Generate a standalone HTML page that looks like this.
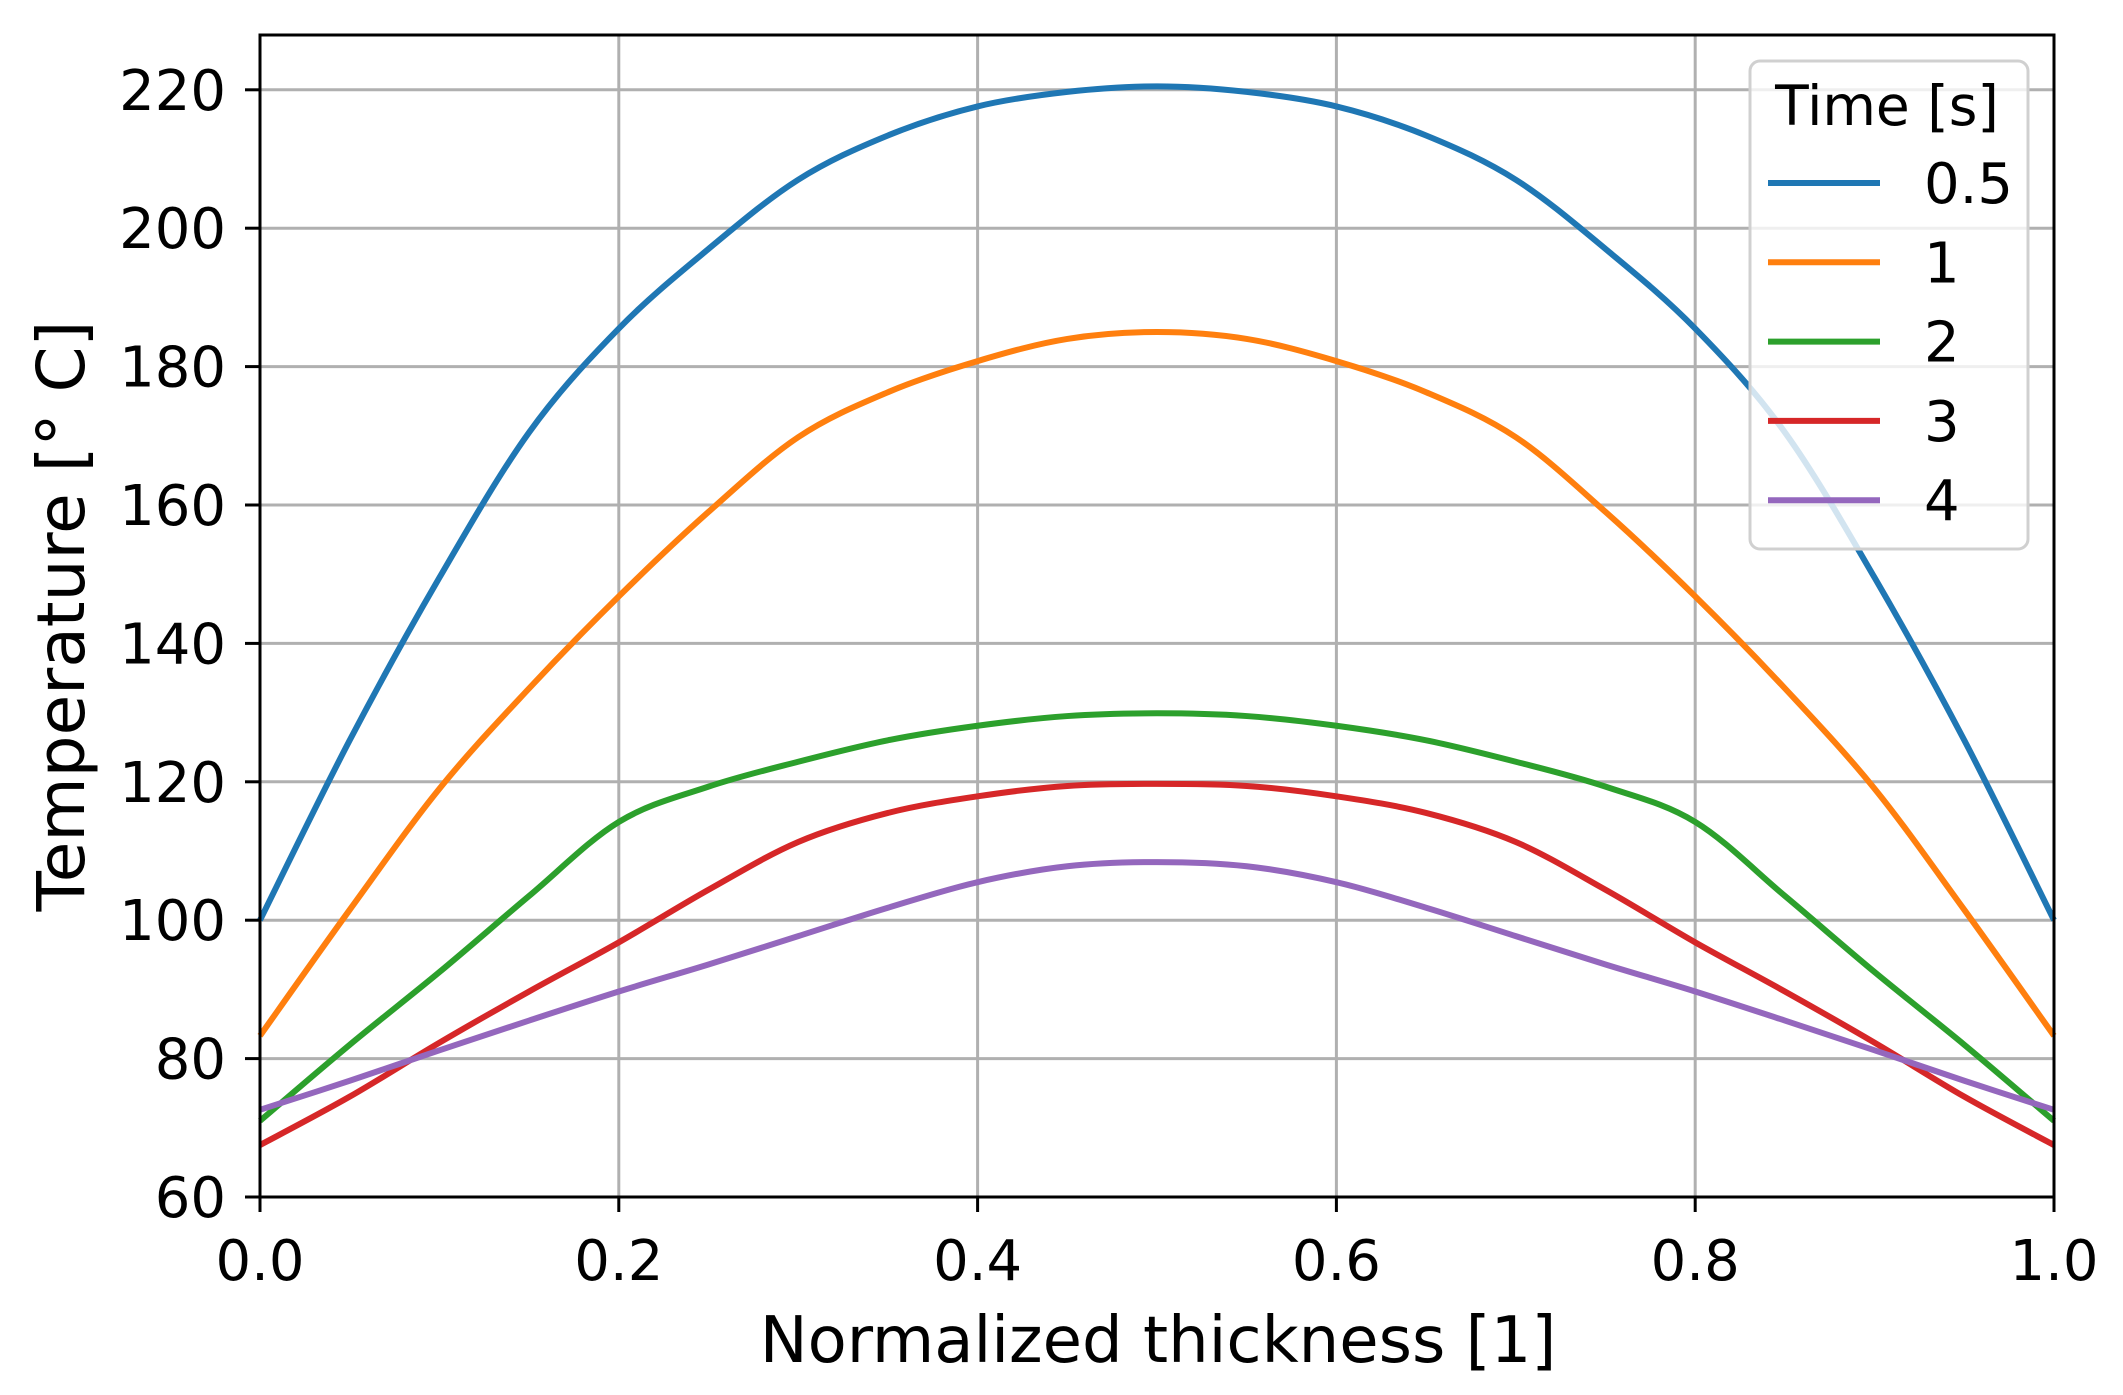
<!DOCTYPE html>
<html><head><meta charset="utf-8"><style>
html,body{margin:0;padding:0;background:#fff;}
svg{display:block;font-family:"DejaVu Sans","Liberation Sans",sans-serif;}
</style></head><body>
<svg id="chart" width="2123" height="1395" viewBox="0 0 2123 1395" xmlns="http://www.w3.org/2000/svg">
<g id="grid"></g>
<g id="series"></g>
<rect x="260" y="35" width="1794" height="1162" fill="none" stroke="#000" stroke-width="3"/>
<g id="ticks"></g>
<text x="1158" y="1362" font-size="64" text-anchor="middle">Normalized thickness [1]</text>
<text transform="translate(84,616) rotate(-90)" font-size="66" text-anchor="middle">Temperature [° C]</text>
<g id="legend">
<rect x="1750" y="61" width="278" height="488" rx="10" fill="#fff" fill-opacity="0.8" stroke="#d0d0d0" stroke-width="3"/>
<text x="1887" y="125" font-size="55" text-anchor="middle">Time [s]</text>
</g>
</svg>
<script>
const xs = [0,0.05,0.1,0.15,0.2,0.25,0.3,0.35,0.4,0.45,0.5,0.55,0.6,0.65,0.7,0.75,0.8,0.85,0.9,0.95,1];
const t05 = [100,126,149.5,170.5,185.5,197,207,213.4,217.6,219.7,220.5,219.7,217.6,213.4,207,197,185.5,170.5,149.5,126,100];
const t1 = [83.3,101.5,119,133.5,146.8,159,169.8,176.3,180.8,184,185,184,180.8,176.3,169.8,159,146.8,133.5,119,101.5,83.3];
const t2 = [71,82,92.5,103.5,114.2,119.3,122.9,126,128.1,129.5,129.9,129.5,128.1,126,122.9,119.3,114.2,103.5,92.5,82,71];
const t3 = [67.5,74.5,82.3,89.7,96.8,104.4,111.3,115.5,117.9,119.4,119.7,119.4,117.9,115.5,111.3,104.4,96.8,89.7,82.3,74.5,67.5];
const t4 = [72.6,76.8,81.2,85.5,89.7,93.6,97.7,101.8,105.5,107.8,108.4,107.8,105.5,101.8,97.7,93.6,89.7,85.5,81.2,76.8,72.6];
const seriesNames = ["0.5","1","2","3","4"];
const xTicks = [0,0.2,0.4,0.6,0.8,1.0];
const xTickLabels = ["0.0","0.2","0.4","0.6","0.8","1.0"];
const yTicks = [60,80,100,120,140,160,180,200,220];

const NS="http://www.w3.org/2000/svg";
const X0=260,X1=2054,Y0=1197,PXU=6.92;
function sx(v){return X0+(X1-X0)*v;}
function sy(v){return Y0-(v-60)*PXU;}
function mk(tag,attrs,parent){const e=document.createElementNS(NS,tag);for(const k in attrs)e.setAttribute(k,attrs[k]);parent.appendChild(e);return e;}
const grid=document.getElementById('grid'),ticks=document.getElementById('ticks'),ser=document.getElementById('series'),leg=document.getElementById('legend');
xTicks.forEach((v,i)=>{
  const g=mk('line',{x1:sx(v),x2:sx(v),y1:35,y2:1197,stroke:'#b0b0b0','stroke-width':3},grid);
  
  
  const t=mk('line',{x1:sx(v),x2:sx(v),y1:1197,y2:1212,stroke:'#000','stroke-width':3},ticks);
  
  
  const l=mk('text',{x:sx(v),y:1280,'font-size':56,'text-anchor':'middle'},ticks);
  
  
  l.textContent=xTickLabels[i];
});
yTicks.forEach(v=>{
  const g=mk('line',{x1:260,x2:2054,y1:sy(v),y2:sy(v),stroke:'#b0b0b0','stroke-width':3},grid);
  
  
  const t=mk('line',{x1:245,x2:260,y1:sy(v),y2:sy(v),stroke:'#000','stroke-width':3},ticks);
  
  
  const l=mk('text',{x:226,y:sy(v)+20,'font-size':56,'text-anchor':'end'},ticks);
  
  
  l.textContent=String(v);
});
function pathFor(ys){
  const p=xs.map((x,i)=>[sx(x),sy(ys[i])]);
  let d='M'+p[0][0]+','+p[0][1];
  for(let i=0;i<p.length-1;i++){
    const a=p[Math.max(0,i-1)],b=p[i],c=p[i+1],e=p[Math.min(p.length-1,i+2)];
    const c1=[b[0]+(c[0]-a[0])/6,b[1]+(c[1]-a[1])/6],c2=[c[0]-(e[0]-b[0])/6,c[1]-(e[1]-b[1])/6];
    d+=' C'+c1[0]+','+c1[1]+' '+c2[0]+','+c2[1]+' '+c[0]+','+c[1];
  }
  return d;
}
const data=[t05,t1,t2,t3,t4];
const colors=['#1f77b4','#ff7f0e','#2ca02c','#d62728','#9467bd'];
data.forEach((ys,i)=>{
  const p=mk('path',{d:pathFor(ys),fill:'none',stroke:colors[i],'stroke-width':6,'stroke-linejoin':'round'},ser);
  
  
  const ly=183+i*79.3;
  const ll=mk('line',{x1:1768,x2:1880,y1:ly,y2:ly,stroke:colors[i],'stroke-width':6},leg);
  
  
  const lt=mk('text',{x:1924,y:ly+20,'font-size':56},leg);
  
  
  lt.textContent=seriesNames[i];
});
</script>
</body></html>
